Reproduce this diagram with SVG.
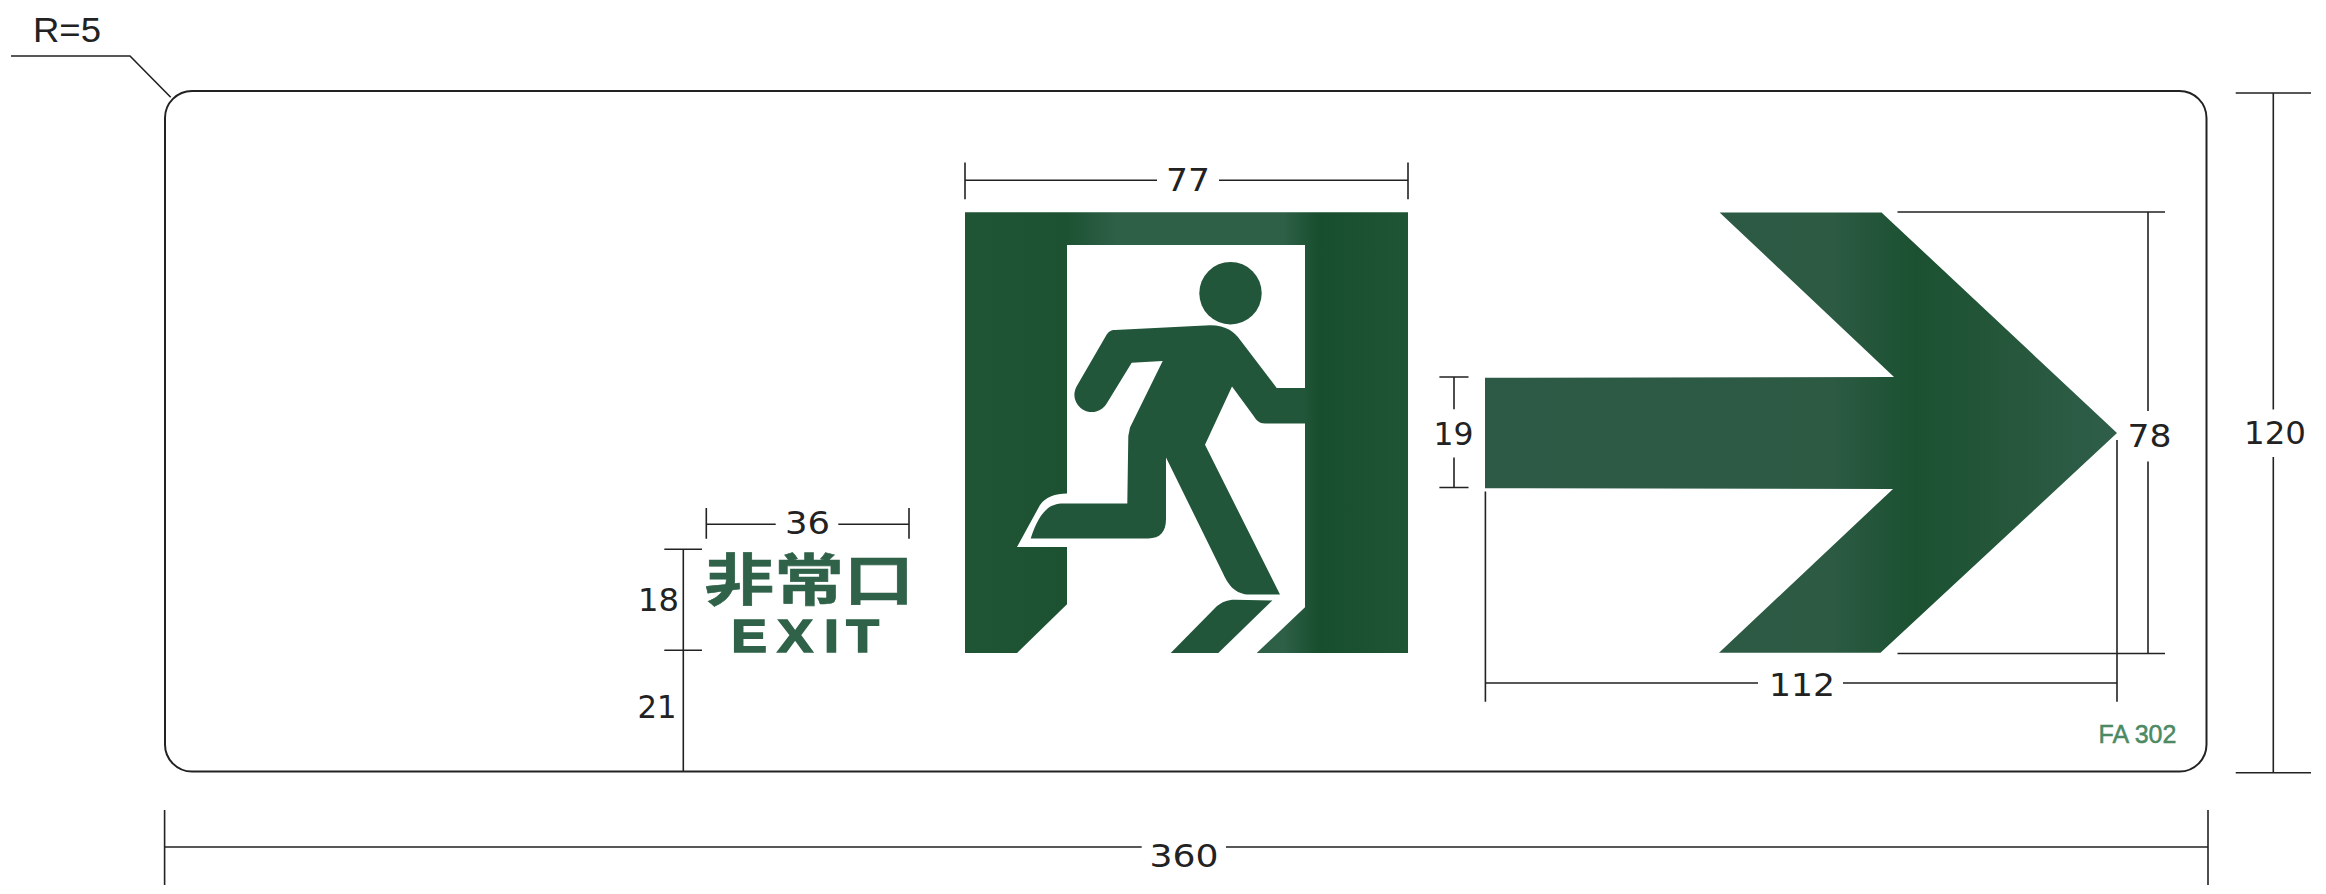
<svg xmlns="http://www.w3.org/2000/svg" width="2326" height="894" viewBox="0 0 2326 894">
<style>
.d{stroke:#222;stroke-width:1.6;fill:none}
.t{font-family:"DejaVu Sans","Liberation Sans",sans-serif;font-size:31.5px;fill:#222}
.g{font-family:"Liberation Sans",Arial,sans-serif;font-weight:700;fill:#2f6248;stroke:#2f6248}
</style>
<defs>
<linearGradient id="fr" gradientUnits="userSpaceOnUse" x1="965" y1="0" x2="1408" y2="0">
<stop offset="0" stop-color="#1f5535"/><stop offset=".23" stop-color="#1c5232"/><stop offset=".34" stop-color="#2e5f47"/><stop offset=".72" stop-color="#2e5f47"/><stop offset=".8" stop-color="#174e2d"/><stop offset="1" stop-color="#1f5535"/>
</linearGradient>
<linearGradient id="ar" gradientUnits="userSpaceOnUse" x1="1485" y1="0" x2="2117" y2="0">
<stop offset="0" stop-color="#2d5a46"/><stop offset=".55" stop-color="#2c5a43"/><stop offset=".68" stop-color="#1b5131"/><stop offset=".85" stop-color="#27583d"/><stop offset="1" stop-color="#2f5e4a"/>
</linearGradient>
</defs>
<rect width="2326" height="894" fill="#fff"/>
<g id="board"><rect x="165" y="91" width="2041.5" height="680.5" rx="27" ry="27" fill="#fff" stroke="#222" stroke-width="2"/></g>
<g id="exit-door">
<path fill="url(#fr)" d="M965 212.3H1408V653H1256.7L1305 607.3V245H1067V493.6C1055 493.6 1046 497 1040 505L1017 547H1067V604.2L1017 653H965Z"/>
</g>
<g id="running-person" fill="#22563a">
<circle cx="1230.5" cy="293.2" r="31.2"/>
<path d="M1115 330.1L1210 325.3C1226.7 325.3 1235 332.8 1240 339.7L1276.7 387.9H1305V423.4H1265C1259 423.4 1256.7 420.6 1253.3 415.5L1232 386.6L1205 444.8L1280 594.5H1250C1235 594.5 1228 584.2 1223.3 573.9L1166 457.5V518.8C1166 532 1160 538.4 1148.3 538.4H1030.7C1040 510.2 1050 503.6 1063.3 503.6H1127.3L1128.3 436.1L1130 427.5L1162.7 361.1L1131.7 362.8L1106.7 403.4A17.2 17.2 0 0 1 1076.7 386.2L1105.7 336.3C1108 332 1111 330.1 1115 330.1Z"/>
<path d="M1170.7 653H1218.3L1272.3 600.4L1235 599.7C1227 599.7 1222 602 1217 606Z"/>
</g>
<g id="arrow"><path fill="url(#ar)" d="M1719.6 212.4H1881.5L2117 433.1L1880.5 652.8H1719L1893 488.9L1485 488.2V377.7L1894 377Z"/></g>
<g id="sign-label">
<text class="g" font-size="56" stroke-width=".6" transform="translate(704.5 600) scale(1.245 1)" style="font-family:'Noto Sans CJK JP','Liberation Sans',sans-serif">非常口</text>
<text class="g" font-size="47" stroke-width="1.6" transform="translate(734 652) scale(1.14 1)" x="-2.5 38 79 98.5" y="0">EXIT</text>
</g>
<g id="model-code"><text x="2098.5" y="743" font-size="25" stroke="#4c8a63" stroke-width=".5" style="font-family:'Liberation Sans',Arial,sans-serif;fill:#4c8a63">FA 302</text></g>
<g id="connectors" class="d">
<path d="M11 56H130L170.7 97.3"/>
<path d="M965 162.4V199.2M965 180.3H1157M1219 180.3H1408M1408 162.4V199.2"/>
<path d="M706.3 508V538.7M706.3 524.3H775.7M838.3 524.3H909M909 508V538.7"/>
<path d="M664.3 549.3H702M664.3 650.3H702M683.3 549.3V771"/>
<path d="M1439.4 377H1468.5M1439.4 487.5H1468.5M1454 377V409.3M1454 457.6V487.5"/>
<path d="M1897.5 212H2165M1897.5 653.5H2165M2148 212V411M2148 461.6V653.5"/>
<path d="M1485.4 491.6V701.7M2117 440V701.7M1485.4 683H1758M1843 683H2117"/>
<path d="M2235.7 93H2311M2235.7 772.8H2311M2273.3 93V409.5M2273.3 457V772.8"/>
<path d="M164.6 810V885M2208 810V885M164.6 847H1141.7M1226 847H2208"/>
</g>
<g id="dimension-labels">
<text x="33" y="42" font-size="35" textLength="68" lengthAdjust="spacingAndGlyphs" style="font-family:'Liberation Sans',Arial,sans-serif;fill:#222">R=5</text>
<text class="t" x="1166" y="191" textLength="44" lengthAdjust="spacingAndGlyphs">77</text>
<text class="t" x="785" y="534.3" textLength="45" lengthAdjust="spacingAndGlyphs">36</text>
<text class="t" x="638" y="611" textLength="41" lengthAdjust="spacingAndGlyphs">18</text>
<text class="t" x="637.5" y="717.7" textLength="39" lengthAdjust="spacingAndGlyphs">21</text>
<text class="t" x="1433.5" y="445" textLength="40" lengthAdjust="spacingAndGlyphs">19</text>
<text class="t" x="2127.5" y="447.2" textLength="44" lengthAdjust="spacingAndGlyphs">78</text>
<text class="t" x="1769" y="695.8" textLength="66" lengthAdjust="spacingAndGlyphs">112</text>
<text class="t" x="2244" y="444" textLength="62" lengthAdjust="spacingAndGlyphs">120</text>
<text class="t" x="1149.5" y="866.7" textLength="69" lengthAdjust="spacingAndGlyphs">360</text>
</g>
</svg>
